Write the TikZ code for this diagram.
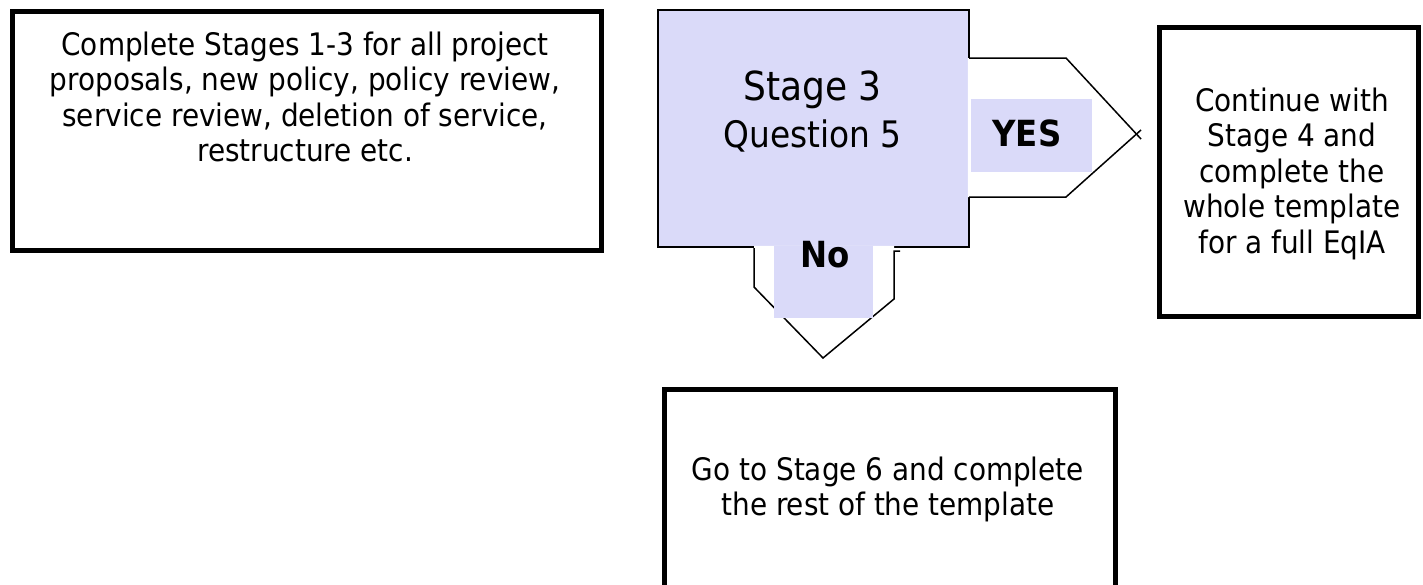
\documentclass[tikz,border=0pt]{standalone}
\usepackage{fontspec}
\setmainfont{DejaVuSansCondensed}[Extension=.ttf, BoldFont=DejaVuSansCondensed-Bold]
\definecolor{qfill}{RGB}{218,218,249}

\begin{document}
\begin{tikzpicture}[x=1pt, y=-1pt,
  every node/.style={outer sep=0pt, inner sep=0pt},
  framebox/.style={draw, line width=5pt, anchor=north west},
  qbox/.style={draw, fill=qfill, line width=1.8pt, anchor=north west},
  tagbox/.style={fill=qfill, anchor=north west},
  arrowline/.style={line width=1.5pt, line join=miter},
  body/.style={font=\fontsize{31}{35.5}\selectfont, anchor=base},
  tagtext/.style={font=\bfseries\fontsize{36}{40}\selectfont, anchor=base}]

\useasboundingbox (0,0) rectangle (1423,584);

% boxes
\node[framebox, minimum width=589pt, minimum height=238.5pt] (start) at (12,11.5) {};
\node[qbox, minimum width=311pt, minimum height=237pt] (q) at (658,10) {};
\node[framebox, minimum width=258.5pt, minimum height=289pt] (full) at (1159.5,27.5) {};
\node[framebox, minimum width=451pt, minimum height=230pt] (rest) at (664,389) {};

% YES block arrow
\coordinate (ya) at (969,58);
\coordinate (yb) at (1066,58);
\coordinate (yt1) at (1141,139);
\coordinate (yc) at (969,197);
\coordinate (yd) at (1066,197);
\coordinate (yt2) at (1141,130);
\fill[white] (967.9,58) -- (yb) -- (1136.4,134) -- (yd) -- (967.9,197) -- cycle;
\draw[arrowline] (ya) -- (yb) -- (yt1);
\draw[arrowline] (yc) -- (yd) -- (yt2);
\node[tagbox, minimum width=121pt, minimum height=73pt] (yestag) at (971,99) {};
\node[tagtext] (yes) at (1027,146) {YES};

% No block arrow
\coordinate (na) at (754,248);
\coordinate (nb) at (754,287);
\coordinate (nt) at (823,358);
\coordinate (nc) at (894,299);
\coordinate (nd) at (894,251);
\coordinate (ne) at (900,251);
\fill[white] (754,245.9) -- (894,245.9) -- (nc) -- (nt) -- (nb) -- cycle;
\draw[arrowline] (na) -- (nb) -- (nt) -- (nc) -- (nd) -- (ne);
\node[tagbox, minimum width=99pt, minimum height=72pt] (notag) at (774,246) {};
\node[tagtext] (no) at (825,267) {No};

% texts
\node[body] (t-start) at (305,55) {\begin{tabular}[t]{@{}c@{}}Complete Stages 1-3 for all project\\proposals, new policy, policy review,\\service review, deletion of service,\\restructure etc.\end{tabular}};
\node[anchor=base, font=\fontsize{40}{47}\selectfont] (t-q) at (812.5,100) {\begin{tabular}[t]{@{}c@{}}Stage 3\\\fontsize{36.5}{40}\selectfont Question 5\end{tabular}};
\node[body] (t-full) at (1292,111) {\begin{tabular}[t]{@{}c@{}}Continue with\\Stage 4 and\\complete the\\whole template\\for a full EqIA\end{tabular}};
\node[body] (t-rest) at (888,480) {\begin{tabular}[t]{@{}c@{}}Go to Stage 6 and complete\\the rest of the template\end{tabular}};
\end{tikzpicture}
\end{document}
